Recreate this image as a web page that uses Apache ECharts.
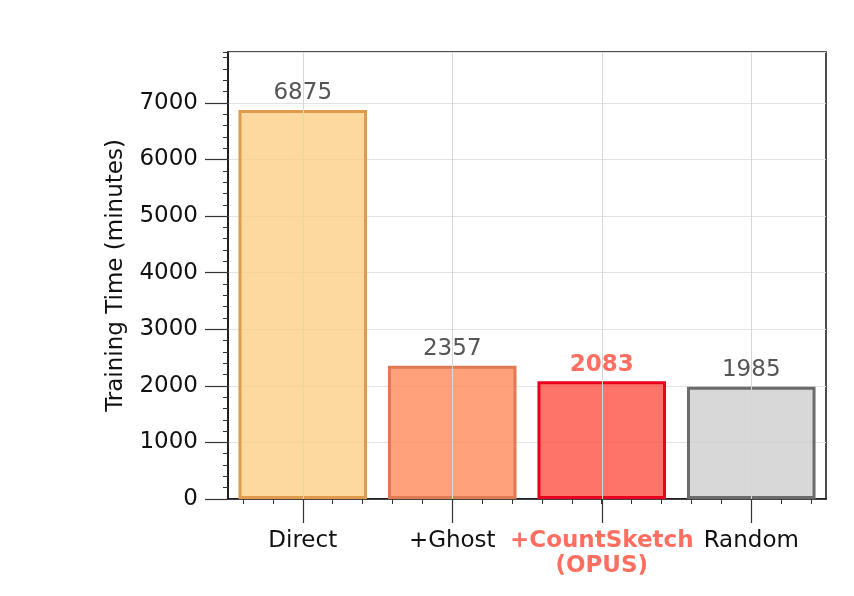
<!DOCTYPE html>
<html>
<head>
<meta charset="utf-8">
<script src="https://cdn.jsdelivr.net/npm/echarts@6/dist/echarts.min.js"></script>
<style>
  html, body { margin: 0; padding: 0; background: #fff; }
  #chart { width: 854px; height: 596px; }
</style>
</head>
<body>
<div id="chart"></div>
<script>
// chart data
var categories = ["Direct", "+Ghost", "+CountSketch\n(OPUS)", "Random"];
var trainingMinutes = [6875, 2357, 2083, 1985];
var yMax = 7900;
var highlightIndex = 2; // the OPUS bar

// bar styles (fill drawn semi transparent so the grid shows through)
var fillColors = ["rgba(252,204,128,0.75)", "rgba(255,131,80,0.75)", "rgba(255,69,53,0.75)", "rgba(203,203,203,0.75)"];
var edgeColors = ["#e09a4e", "#df7a52", "#e8001c", "#6b6b6b"];
var accent = "#ff6f61";
var font = "DejaVu Sans";

// 5 minor slots per category -> minor tick every 1/5 of a band
var minorSlots = [];
categories.forEach(function() {
  for (var k = 0; k < 5; k++) minorSlots.push("");
});

var chart = echarts.init(document.getElementById("chart"));
chart.setOption({
  backgroundColor: "#fff",
  animation: false,
  textStyle: { fontFamily: font },
  grid: {
    left: 228, right: 28, top: 52, bottom: 97,
    show: true, borderColor: "#111", borderWidth: 1.5, backgroundColor: "transparent"
  },
  xAxis: [
    {
      type: "category",
      data: categories,
      axisLine: { lineStyle: { color: "#111", width: 1.5 } },
      axisTick: { show: true, interval: 0, alignWithLabel: true, length: 24, lineStyle: { color: "#333", width: 1.2 } },
      axisLabel: {
        interval: 0,
        margin: 30,
        fontSize: 23,
        fontFamily: font,
        color: "#111",
        lineHeight: 25,
        formatter: function(value, idx) {
          if (idx === highlightIndex) {
            return value.split("\n").map(function(s) { return "{hl|" + s + "}"; }).join("\n");
          }
          return value;
        },
        rich: {
          hl: { fontSize: 23, fontWeight: "bold", color: accent, fontFamily: font, lineHeight: 25 }
        }
      },
      splitLine: { show: false }
    },
    {
      // minor ticks only
      type: "category",
      data: minorSlots,
      position: "bottom",
      axisLine: { show: false },
      axisTick: { show: true, interval: 0, alignWithLabel: true, length: 5, lineStyle: { color: "#333", width: 1 } },
      axisLabel: { show: false },
      splitLine: { show: false }
    }
  ],
  yAxis: [
    {
      type: "value",
      min: 0,
      max: yMax,
      interval: 1000,
      name: "Training Time (minutes)",
      nameLocation: "middle",
      nameGap: 100,
      nameTextStyle: { fontSize: 23, color: "#111", fontFamily: font },
      axisLine: { show: true, lineStyle: { color: "#111", width: 1.5 } },
      axisTick: { show: true, length: 23, lineStyle: { color: "#333", width: 1.2 } },
      axisLabel: {
        margin: 30, fontSize: 23, color: "#111", fontFamily: font, showMaxLabel: false,
        formatter: function(v) { return String(v); }
      },
      splitLine: { show: true, lineStyle: { color: "#e2e2e2", width: 1 } }
    },
    {
      // minor ticks only
      type: "value",
      min: 0,
      max: yMax,
      interval: 200,
      position: "left",
      axisLine: { show: false },
      axisTick: { show: true, length: 5, lineStyle: { color: "#333", width: 1 } },
      axisLabel: { show: false },
      splitLine: { show: false }
    }
  ],
  series: [
    {
      type: "bar",
      xAxisIndex: 0,
      yAxisIndex: 0,
      barWidth: "86%",
      data: trainingMinutes.map(function(v, i) {
        var item = {
          value: v,
          itemStyle: { color: fillColors[i], borderColor: edgeColors[i], borderWidth: 3 }
        };
        if (i === highlightIndex) {
          item.label = { fontWeight: "bold", color: accent };
        }
        return item;
      }),
      label: {
        show: true,
        position: "top",
        distance: 5,
        fontSize: 23,
        fontFamily: font,
        color: "#555"
      },
      markLine: {
        silent: true,
        symbol: "none",
        label: { show: false },
        lineStyle: { color: "#d6d6d6", width: 1, type: "solid" },
        data: categories.map(function(c) { return { xAxis: c }; })
      }
    }
  ]
});
</script>
</body>
</html>
